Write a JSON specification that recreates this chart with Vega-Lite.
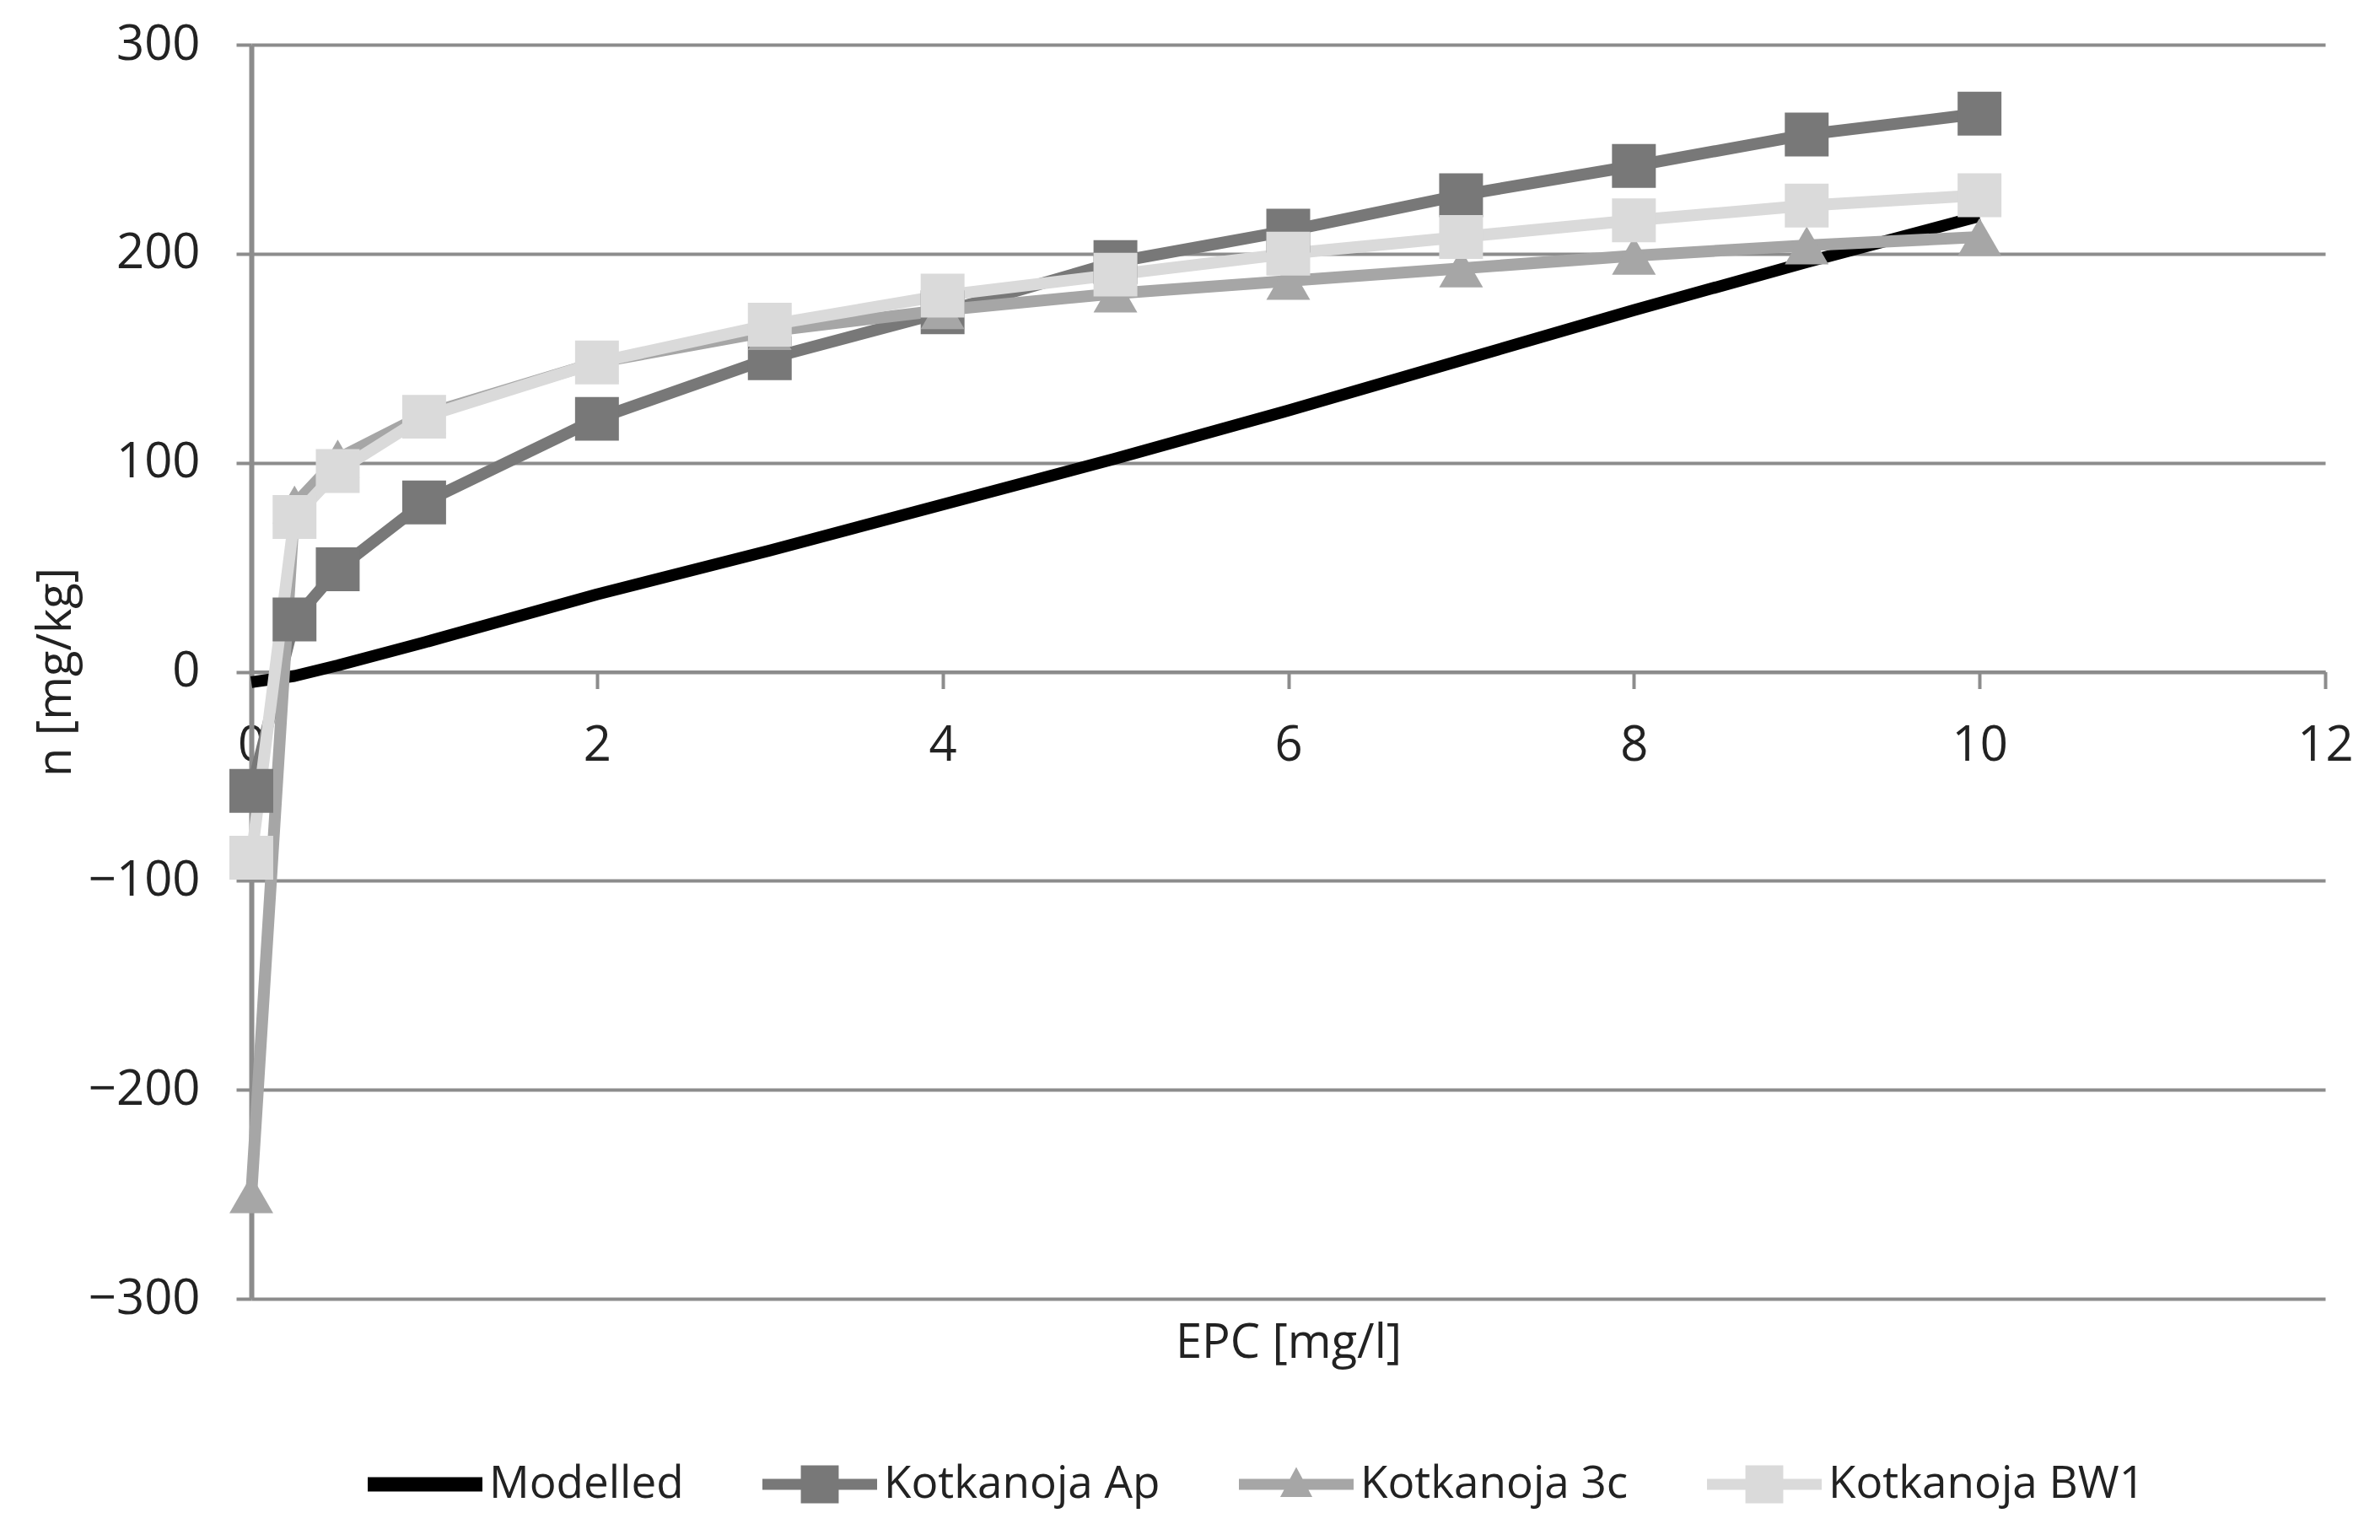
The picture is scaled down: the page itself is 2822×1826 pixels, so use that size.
{
  "$schema": "https://vega.github.io/schema/vega-lite/v6.json",
  "width": 2459,
  "height": 1487,
  "autosize": {"type": "none"},
  "padding": {"left": 298, "top": 53, "right": 65, "bottom": 286},
  "background": "white",
  "config": {"view": {"stroke": null}, "font": "Open Sans"},
  "data": {
    "values": [
      {"series": "Modelled", "x": 0, "y": -5},
      {"series": "Modelled", "x": 0.25, "y": -2},
      {"series": "Modelled", "x": 0.5, "y": 3},
      {"series": "Modelled", "x": 1, "y": 14},
      {"series": "Modelled", "x": 2, "y": 37},
      {"series": "Modelled", "x": 3, "y": 58},
      {"series": "Modelled", "x": 4, "y": 80},
      {"series": "Modelled", "x": 5, "y": 102},
      {"series": "Modelled", "x": 6, "y": 125},
      {"series": "Modelled", "x": 7, "y": 149},
      {"series": "Modelled", "x": 8, "y": 173},
      {"series": "Modelled", "x": 9, "y": 196},
      {"series": "Modelled", "x": 10, "y": 218},
      {"series": "Kotkanoja Ap", "x": 0, "y": -57},
      {"series": "Kotkanoja Ap", "x": 0.25, "y": 25},
      {"series": "Kotkanoja Ap", "x": 0.5, "y": 49},
      {"series": "Kotkanoja Ap", "x": 1, "y": 81},
      {"series": "Kotkanoja Ap", "x": 2, "y": 121},
      {"series": "Kotkanoja Ap", "x": 3, "y": 150},
      {"series": "Kotkanoja Ap", "x": 4, "y": 172},
      {"series": "Kotkanoja Ap", "x": 5, "y": 196},
      {"series": "Kotkanoja Ap", "x": 6, "y": 211},
      {"series": "Kotkanoja Ap", "x": 7, "y": 228},
      {"series": "Kotkanoja Ap", "x": 8, "y": 242},
      {"series": "Kotkanoja Ap", "x": 9, "y": 257},
      {"series": "Kotkanoja Ap", "x": 10, "y": 267},
      {"series": "Kotkanoja 3c", "x": 0, "y": -250},
      {"series": "Kotkanoja 3c", "x": 0.25, "y": 80},
      {"series": "Kotkanoja 3c", "x": 0.5, "y": 102},
      {"series": "Kotkanoja 3c", "x": 1, "y": 123},
      {"series": "Kotkanoja 3c", "x": 2, "y": 148},
      {"series": "Kotkanoja 3c", "x": 3, "y": 163},
      {"series": "Kotkanoja 3c", "x": 4, "y": 173},
      {"series": "Kotkanoja 3c", "x": 5, "y": 181},
      {"series": "Kotkanoja 3c", "x": 6, "y": 187},
      {"series": "Kotkanoja 3c", "x": 7, "y": 193},
      {"series": "Kotkanoja 3c", "x": 8, "y": 199},
      {"series": "Kotkanoja 3c", "x": 9, "y": 204},
      {"series": "Kotkanoja 3c", "x": 10, "y": 208},
      {"series": "Kotkanoja BW1", "x": 0, "y": -89},
      {"series": "Kotkanoja BW1", "x": 0.25, "y": 74},
      {"series": "Kotkanoja BW1", "x": 0.5, "y": 96},
      {"series": "Kotkanoja BW1", "x": 1, "y": 122},
      {"series": "Kotkanoja BW1", "x": 2, "y": 148},
      {"series": "Kotkanoja BW1", "x": 3, "y": 166},
      {"series": "Kotkanoja BW1", "x": 4, "y": 180},
      {"series": "Kotkanoja BW1", "x": 5, "y": 190},
      {"series": "Kotkanoja BW1", "x": 6, "y": 200},
      {"series": "Kotkanoja BW1", "x": 7, "y": 208},
      {"series": "Kotkanoja BW1", "x": 8, "y": 216},
      {"series": "Kotkanoja BW1", "x": 9, "y": 223},
      {"series": "Kotkanoja BW1", "x": 10, "y": 228}
    ]
  },
  "encoding": {
    "x": {
      "field": "x", "type": "quantitative",
      "scale": {"domain": [0, 12], "nice": false, "zero": false},
      "axis": {
        "values": [0, 2, 4, 6, 8, 10, 12],
        "title": "EPC [mg/l]",
        "grid": false,
        "offset": -743.5,
        "domainColor": "#8c8c8c", "domainWidth": 4,
        "tickColor": "#8c8c8c", "tickWidth": 4, "tickSize": 20,
        "labelFont": "Open Sans", "labelFontSize": 58, "labelColor": "#222222",
        "labelPadding": 39, "labelFlush": false, "labelOverlap": false,
        "titleFont": "Open Sans", "titleFontSize": 56, "titleFontWeight": "normal",
        "titleColor": "#222222", "titleY": 796, "titleX": 1229.5, "titleBaseline": "middle"
      }
    },
    "y": {
      "field": "y", "type": "quantitative",
      "scale": {"domain": [-300, 300], "nice": false},
      "axis": {
        "values": [-300, -200, -100, 0, 100, 200, 300],
        "title": "n [mg/kg]",
        "grid": true, "gridColor": "#8c8c8c", "gridWidth": 4, "gridOpacity": 1,
        "domainColor": "#8c8c8c", "domainWidth": 6,
        "tickColor": "#8c8c8c", "tickWidth": 4, "tickSize": 18,
        "labelFont": "Open Sans", "labelFontSize": 58, "labelColor": "#222222",
        "labelPadding": 43, "labelOverlap": false,
        "titleFont": "Open Sans", "titleFontSize": 56, "titleFontWeight": "normal",
        "titleColor": "#222222", "titleX": -232, "titleY": 743.5, "titleBaseline": "middle"
      }
    },
    "color": {
      "field": "series", "type": "nominal",
      "scale": {
        "domain": ["Modelled", "Kotkanoja Ap", "Kotkanoja 3c", "Kotkanoja BW1"],
        "range": ["#000000", "#787878", "#a6a6a6", "#dadada"]
      },
      "legend": {
        "orient": "none", "legendX": 138, "legendY": 1639,
        "direction": "horizontal", "title": null, "padding": 0,
        "labelFont": "Open Sans", "labelFontSize": 53, "labelColor": "#222222",
        "labelOffset": 8, "labelLimit": 0, "columnPadding": 93,
        "symbolSize": 18496, "symbolStrokeWidth": 0,
        "encode": {
          "symbols": {
            "update": {
              "shape": {"signal": "datum.value === 'Modelled' ? 'M-1,-0.125H1V0.125H-1Z' : (datum.value === 'Kotkanoja 3c' ? 'M-1,-0.095H1V0.095H-1Z M0,-0.3L0.28,0.22L-0.28,0.22Z' : 'M-1,-0.095H1V0.095H-1Z M-0.33,-0.33H0.33V0.33H-0.33Z')"},
              "fill": {"scale": "color", "field": "value"},
              "fillOpacity": {"value": 1},
              "opacity": {"value": 1},
              "strokeWidth": {"value": 0}
            }
          }
        }
      }
    }
  },
  "layer": [
    {
      "mark": {"type": "line", "strokeWidth": 14, "strokeJoin": "round"}
    },
    {
      "transform": [{"filter": "datum.series !== 'Modelled'"}],
      "mark": {"type": "point", "filled": true, "opacity": 1, "size": 2700},
      "encoding": {
        "shape": {
          "field": "series", "type": "nominal",
          "scale": {"domain": ["Kotkanoja Ap", "Kotkanoja 3c", "Kotkanoja BW1"], "range": ["square", "triangle-up", "square"]},
          "legend": null
        }
      }
    }
  ]
}
